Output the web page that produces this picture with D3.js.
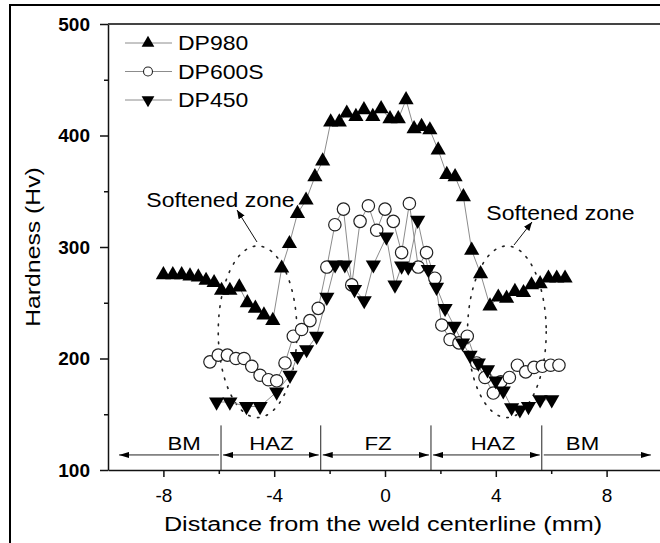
<!DOCTYPE html>
<html><head><meta charset="utf-8">
<script src="https://cdn.jsdelivr.net/npm/d3@7"></script>
<style>
html,body{margin:0;padding:0;background:#fff;}
svg{display:block;}
text{font-family:"Liberation Sans",Arial,Helvetica,sans-serif;fill:#000;}
</style></head><body>
<svg id="chart" width="660" height="543"></svg>
<script>
// Hardness traverse across the weld (distance in mm, hardness in Hv)
const dp980X = [-8.0,-7.66,-7.34,-7.04,-6.74,-6.46,-6.17,-5.9,-5.6,-5.26,-4.97,-4.68,-4.37,-4.05,-3.73,-3.45,-3.16,-2.85,-2.53,-2.25,-1.96,-1.65,-1.38,-1.05,-0.76,-0.44,-0.14,0.18,0.48,0.76,1.05,1.32,1.62,1.92,2.23,2.53,2.83,3.13,3.45,3.79,4.09,4.39,4.69,5.0,5.29,5.6,5.9,6.2,6.5];
const dp980Y = [275,275,275,274,273,270,268,261,261,264,250,245,239,234,281,303,330,342,363,377,412,412,420,417,423,417,424,415,415,432,406,408,405,387,365,363,345,297,276,247,255,254,260,259,266,267,272,272,272];

const dp600X = [-6.32,-6.02,-5.69,-5.38,-5.09,-4.81,-4.51,-4.21,-3.91,-3.61,-3.31,-3.01,-2.71,-2.41,-2.1,-1.81,-1.5,-1.2,-0.9,-0.6,-0.3,0.0,0.3,0.6,0.88,1.2,1.5,1.8,2.05,2.35,2.67,2.97,3.31,3.61,3.91,4.18,4.49,4.78,5.08,5.38,5.68,5.98,6.28];
const dp600Y = [197,203,203,200,200,193,185,181,180,196,220,226,234,245,282,320,334,266,323,337,315,334,323,295,339,282,295,272,230,217,214,220,196,183,169,179,183,194,188,192,193,194,194];

const dp450X = [-6.08,-5.6,-5.0,-4.51,-3.91,-3.43,-3.16,-2.83,-2.47,-2.1,-1.8,-1.45,-1.1,-0.75,-0.42,0.05,0.36,0.6,0.84,1.18,1.56,1.86,2.17,2.5,2.8,3.07,3.37,3.7,4.0,4.27,4.57,4.87,5.18,5.6,6.02];
const dp450Y = [161,161,157,157,170,185,202,208,220,255,284,284,262,252,284,309,266,283,282,324,280,264,245,229,214,203,196,190,180,171,156,154,157,163,163];

const seriesNames = ["DP980","DP600S","DP450"];

// Zone annotation along the bottom of the plot
const zoneBounds = [-5.92,-2.32,1.66,5.66];
const zoneEnds = [-9.6,9.6];
const zoneLabels = ["BM","HAZ","FZ","HAZ","BM"];
const zoneLabelX = [-7.25,-4.1,-0.25,3.9,7.13];

// Axis ticks
const yMajor = [100,200,300,400,500];
const yMinor = [150,250,350,450];
const xMajor = [-8,-4,0,4,8];
const xMinor = [-6,-2,2,6];

const svg = d3.select("#chart");
const x = d3.scaleLinear().domain([-10,10]).range([108,662]);
const y = d3.scaleLinear().domain([100,500]).range([470,24]);

// outer frame
svg.append("rect").attr("x",10).attr("y",5).attr("width",700).attr("height",600)
  .attr("fill","none").attr("stroke","#000").attr("stroke-width",2);

const defs = svg.append("defs");
defs.append("marker").attr("id","ah").attr("viewBox","0 0 10 6")
  .attr("refX",10).attr("refY",3).attr("markerWidth",10).attr("markerHeight",6)
  .attr("markerUnits","userSpaceOnUse").attr("orient","auto-start-reverse")
  .append("path").attr("d","M0,0L10,3L0,6Z").attr("fill","#000");
defs.append("marker").attr("id","ah2").attr("viewBox","0 0 10 8")
  .attr("refX",10).attr("refY",4).attr("markerWidth",9).attr("markerHeight",7)
  .attr("markerUnits","userSpaceOnUse").attr("orient","auto")
  .append("path").attr("d","M0,0L10,4L0,8Z").attr("fill","#000");

function stretched(g, str, px, py, size, anchor, sx, rot, weight){
  return g.append("text")
    .attr("transform",`translate(${px},${py})${rot?` rotate(${rot})`:""} scale(${sx},1)`)
    .attr("text-anchor",anchor).attr("font-size",size)
    .attr("font-weight",weight||"normal").text(str);
}

// axes
const yAx = svg.append("g").attr("transform",`translate(${x(-10)},0)`)
  .call(d3.axisLeft(y).tickValues(yMajor).tickSize(8).tickSizeOuter(0).tickPadding(10).tickFormat(d=>String(d)));
yAx.select(".domain").attr("stroke","#111").attr("stroke-width",1.5);
yAx.selectAll(".tick line").attr("stroke","#111").attr("stroke-width",1.5);
yAx.selectAll("text").attr("font-size",19).attr("font-weight","bold")
  .attr("font-family","'Liberation Sans',Arial,sans-serif").attr("fill","#000");
const yMin = svg.append("g").attr("transform",`translate(${x(-10)},0)`)
  .call(d3.axisLeft(y).tickValues(yMinor).tickSize(4).tickFormat(""));
yMin.select(".domain").remove();
yMin.selectAll(".tick line").attr("stroke","#111").attr("stroke-width",1.5);

const xAx = svg.append("g").attr("transform",`translate(0,${y(100)})`)
  .call(d3.axisBottom(x).tickValues(xMajor).tickSize(7).tickSizeOuter(0).tickPadding(12).tickFormat(d=>String(d)));
xAx.select(".domain").attr("stroke","#111").attr("stroke-width",1.5);
xAx.selectAll(".tick line").attr("stroke","#111").attr("stroke-width",1.5);
xAx.selectAll("text").attr("font-size",19)
  .attr("font-family","'Liberation Sans',Arial,sans-serif").attr("fill","#000");
const xMin = svg.append("g").attr("transform",`translate(0,${y(100)})`)
  .call(d3.axisBottom(x).tickValues(xMinor).tickSize(4).tickFormat(""));
xMin.select(".domain").remove();
xMin.selectAll(".tick line").attr("stroke","#111").attr("stroke-width",1.5);

// top border of the plot
svg.append("line").attr("x1",x(-10)).attr("x2",x(10)).attr("y1",y(500)).attr("y2",y(500))
  .attr("stroke","#444").attr("stroke-width",2);

// axis titles
stretched(svg,"Hardness (Hv)",40,(y(100)+y(500))/2,21,"middle",1.18,-90);
stretched(svg,"Distance from the weld centerline (mm)",(x(-10)+x(10))/2 - 2,531,21,"middle",1.2);

// zone annotation
const zoneY = y(113.5);
zoneBounds.forEach(b=>{
  svg.append("line").attr("x1",x(b)).attr("x2",x(b)).attr("y1",y(140)).attr("y2",y(100))
    .attr("stroke","#222").attr("stroke-width",1);
});
const edges = [zoneEnds[0],...zoneBounds,zoneEnds[1]];
for(let i=0;i<edges.length-1;i++){
  const first = i===0, last = i===edges.length-2;
  const a = x(edges[i]) + (first?0:2), b = x(edges[i+1]) - (last?0:2);
  const ln = svg.append("line").attr("x1",a).attr("x2",b).attr("y1",zoneY).attr("y2",zoneY)
    .attr("stroke","#222").attr("stroke-width",1);
  // inner zones carry arrows at both ends; the outer BM zones only point outward
  if(!last || last) { if(!first) ln.attr("marker-end", last?"url(#ah)":"url(#ah)"); }
  if(!last) ln.attr("marker-start","url(#ah)");
  if(first) ln.attr("marker-end",null);
  if(last) ln.attr("marker-start",null).attr("marker-end","url(#ah)");
}
zoneLabels.forEach((t,i)=>stretched(svg,t,x(zoneLabelX[i]),450,19,"middle",1.17));

// softened zones
const softCx = [-4.6,4.4];
softCx.forEach(cx=>{
  svg.append("ellipse").attr("cx",x(cx)).attr("cy",y(224))
    .attr("rx",x(cx+1.42)-x(cx)).attr("ry",y(224)-y(301))
    .attr("fill","none").attr("stroke","#222").attr("stroke-width",1.6)
    .attr("stroke-dasharray","1.6,7.5").attr("stroke-linecap","round");
});
stretched(svg,"Softened zone",220.5,207,19.5,"middle",1.18);
stretched(svg,"Softened zone",560.5,220,19.5,"middle",1.18);
svg.append("line").attr("x1",257).attr("y1",242).attr("x2",237).attr("y2",210)
  .attr("stroke","#111").attr("stroke-width",1).attr("marker-end","url(#ah2)");
svg.append("line").attr("x1",514).attr("y1",245).attr("x2",532).attr("y2",222)
  .attr("stroke","#111").attr("stroke-width",1).attr("marker-end","url(#ah2)");

// data series
const tri = d3.symbol(d3.symbolTriangle,100);
const triSmall = d3.symbol(d3.symbolTriangle,70);
const line = d3.line().x(d=>x(d[0])).y(d=>y(d[1]));
const series = [
  {pts: d3.zip(dp980X,dp980Y), kind:"up"},
  {pts: d3.zip(dp600X,dp600Y), kind:"circle"},
  {pts: d3.zip(dp450X,dp450Y), kind:"down"}
];
series.forEach(s=>{
  svg.append("path").attr("d",line(s.pts)).attr("fill","none")
    .attr("stroke","#8c8c8c").attr("stroke-width",1);
});
series.forEach(s=>{
  const g = svg.append("g");
  if(s.kind==="circle"){
    g.selectAll("circle").data(s.pts).join("circle")
      .attr("cx",d=>x(d[0])).attr("cy",d=>y(d[1])).attr("r",6.2)
      .attr("fill","#fff").attr("stroke","#222").attr("stroke-width",1.2);
  } else {
    g.selectAll("path").data(s.pts).join("path")
      .attr("d",tri)
      .attr("transform",d=>`translate(${x(d[0])},${y(d[1])})${s.kind==="down"?" rotate(180)":""}`)
      .attr("fill","#000");
  }
});

// legend
const legY = [43,71.5,100];
series.forEach((s,i)=>{
  svg.append("line").attr("x1",125).attr("x2",172).attr("y1",legY[i]).attr("y2",legY[i])
    .attr("stroke","#8c8c8c").attr("stroke-width",1);
  if(s.kind==="circle"){
    svg.append("circle").attr("cx",148).attr("cy",legY[i]).attr("r",4.5)
      .attr("fill","#fff").attr("stroke","#222").attr("stroke-width",1.1);
  } else {
    svg.append("path").attr("d",triSmall)
      .attr("transform",`translate(148,${legY[i]})${s.kind==="down"?" rotate(180)":""}`)
      .attr("fill","#000");
  }
  stretched(svg,seriesNames[i],178,legY[i]+7,20,"start",1.15);
});
</script>
</body></html>
